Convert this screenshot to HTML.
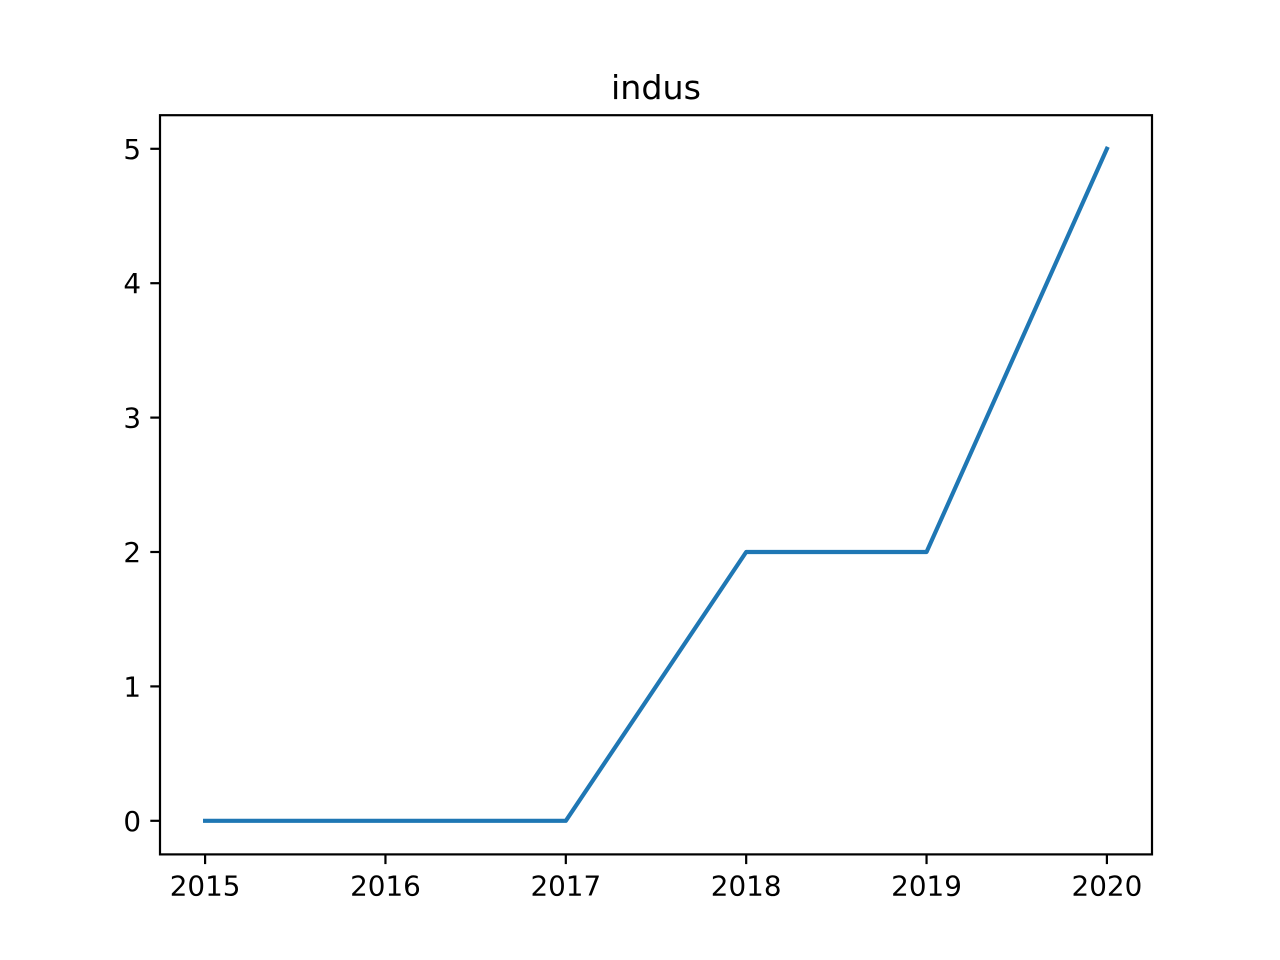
<!DOCTYPE html>
<html><head><meta charset="utf-8"><style>
body{margin:0;background:#fff;}
svg{display:block;font-family:"DejaVu Sans","Liberation Sans",sans-serif;}
</style></head><body>
<svg id="chart" width="1280" height="960" xmlns="http://www.w3.org/2000/svg">
<rect width="1280" height="960" fill="#fff"/>
<text x="656" y="99" font-size="33.3" text-anchor="middle" fill="#000">indus</text>
<g id="plot"></g>
<rect x="160" y="115.2" width="992" height="739.2" fill="none" stroke="#000" stroke-width="2.2"/>
</svg>
<script>
const years = [2015, 2016, 2017, 2018, 2019, 2020];
const values = [0, 0, 0, 2, 2, 5];
const yTicks = [0, 1, 2, 3, 4, 5];
const L=160,R=1152,T=115.2,B=854.4;
const xMin=2014.75,xMax=2020.25,yMin=-0.25,yMax=5.25;
const xs=v=>L+(v-xMin)/(xMax-xMin)*(R-L);
const ys=v=>B-(v-yMin)/(yMax-yMin)*(B-T);
const NS="http://www.w3.org/2000/svg";
const g=document.getElementById('plot');
function mk(tag,attrs){const e=document.createElementNS(NS,tag);for(const k in attrs)e.setAttribute(k,attrs[k]);g.appendChild(e);return e;}
years.forEach(yr=>{
  const t=mk('line',{x1:xs(yr),x2:xs(yr),y1:B,y2:B+9.7,stroke:'#000','stroke-width':2.2});
  
  
  const l=mk('text',{x:xs(yr),y:B+41,'font-size':27.8,'text-anchor':'middle',fill:'#000'});
  l.textContent=yr;
  
  
});
yTicks.forEach(v=>{
  const t=mk('line',{x1:L-9.7,x2:L,y1:ys(v),y2:ys(v),stroke:'#000','stroke-width':2.2});
  
  
  const l=mk('text',{x:L-19,y:ys(v)+10,'font-size':27.8,'text-anchor':'end',fill:'#000'});
  l.textContent=v;
  
  
});
const p=mk('polyline',{points:years.map((yr,i)=>xs(yr)+','+ys(values[i])).join(' '),fill:'none',stroke:'#1f77b4','stroke-width':4.17,'stroke-linecap':'square','stroke-linejoin':'round'});


</script>
</body></html>
